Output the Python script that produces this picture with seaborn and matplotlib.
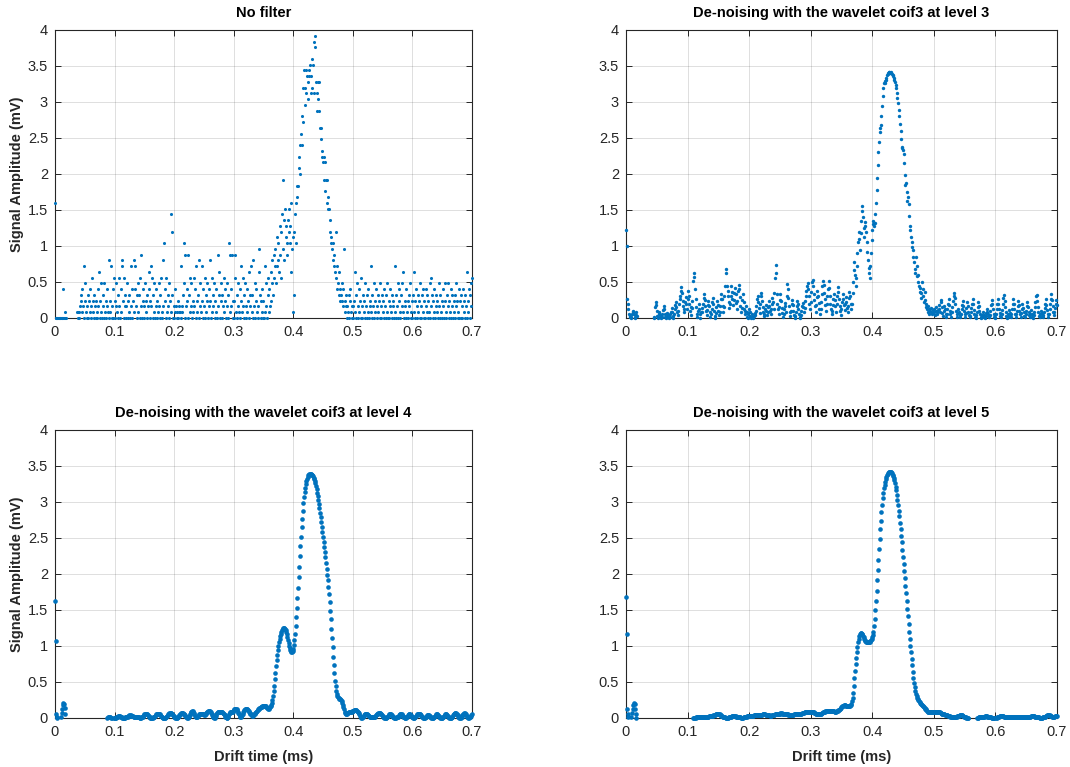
import numpy as np
import pandas as pd
import matplotlib
matplotlib.use("Agg")
import matplotlib.pyplot as plt
import seaborn as sns

# ---------------- data ----------------
SAMPLE_STEP_MS = 0.001      # drift-time sampling step
ADC_STEP_MV = 0.08          # quantisation step of the raw signal

# raw signal, in ADC steps (0.08 mV); negative = below the plotted range
raw_levels = [
    20,0,0,0,0,0,0,0,0,0,
    0,0,0,5,0,0,1,0,0,-1,
    -1,-1,-1,-1,-1,-1,-1,-1,-1,-1,
    -1,-1,-1,-1,-1,-1,-1,1,0,1,
    1,0,2,3,4,1,5,2,9,0,
    3,6,1,0,2,4,0,3,1,5,
    2,0,7,3,1,0,4,2,0,3,
    0,1,5,2,8,0,3,6,1,0,
    4,2,0,6,1,3,0,5,2,1,
    0,10,3,1,9,0,2,5,0,7,
    3,0,6,2,1,4,0,7,2,0,
    5,1,9,10,3,0,7,2,4,0,
    2,6,0,3,1,4,0,9,2,5,
    0,3,10,1,5,9,2,0,4,6,
    1,4,0,7,2,11,0,3,5,2,
    0,6,3,1,4,0,2,5,8,0,
    3,9,2,7,0,4,1,6,0,2,
    5,0,3,1,6,2,0,4,7,1,
    0,10,2,13,5,3,0,7,1,4,
    2,6,0,3,1,18,15,4,0,2,
    0,1,5,2,0,1,3,0,1,2,
    1,0,9,2,1,4,13,6,0,11,
    2,5,3,11,0,4,7,1,6,2,
    0,3,1,7,2,5,0,9,3,1,
    4,10,0,2,6,1,9,3,0,5,
    2,7,0,4,1,6,3,0,5,2,
    10,3,0,7,1,4,2,6,0,3,
    1,5,0,2,11,4,8,0,3,6,
    0,4,2,7,1,5,3,0,6,2,
    4,0,13,11,1,5,2,11,0,3,
    0,3,11,7,1,4,0,6,2,1,
    5,0,9,3,1,7,2,0,4,6,
    2,0,5,1,3,8,0,4,2,9,
    1,4,0,10,2,6,0,3,5,1,
    0,2,8,12,4,0,3,1,5,0,
    3,0,9,1,6,2,0,4,7,1,
    5,2,8,3,10,6,4,11,7,9,
    12,6,14,9,10,13,8,16,11,7,
    15,18,12,24,17,10,19,14,16,13,
    11,17,15,19,13,16,8,20,12,14,
    1,4,15,18,13,20,23,21,23,26,
    28,30,25,32,30,35,40,34,43,37,
    40,43,39,42,38,41,43,42,44,39,
    42,45,40,44,48,39,49,47,41,36,
    39,41,38,36,41,33,31,33,29,28,
    27,28,24,27,22,24,20,24,19,21,
    19,15,17,13,14,12,10,13,9,11,
    8,15,7,9,5,6,4,8,3,5,
    4,6,3,2,5,12,3,1,4,2,
    0,2,1,4,0,3,5,1,0,2,
    2,0,3,8,1,4,0,6,2,0,
    5,1,3,0,7,2,0,4,1,3,
    0,6,2,0,4,1,5,0,3,2,
    1,9,0,4,2,6,0,3,1,5,
    2,0,4,1,3,0,6,2,0,4,
    1,3,0,5,2,0,4,1,6,0,
    3,0,2,5,1,4,0,2,3,0,
    9,1,4,0,2,6,0,3,5,1,
    0,4,2,6,1,8,0,3,2,0,
    5,1,3,0,4,2,6,0,1,3,
    0,4,8,1,3,0,5,2,0,4,
    1,3,0,6,2,0,4,1,5,0,
    3,0,2,5,1,4,0,3,1,6,
    0,2,7,4,0,3,1,5,0,2,
    4,1,3,0,6,2,0,4,1,3,
    0,5,2,0,3,6,1,0,4,2,
    6,0,3,1,5,0,2,4,0,3,
    1,4,0,2,6,3,0,1,5,0,
    3,0,4,2,0,5,1,3,0,4,
    2,8,0,3,1,5,0,4,2,6,
    7,
]

# de-noised, coif3 level 3 (mV)
coif3_level3 = [
    1.22,1.0,0.27,0.2,0.12,0.06,0.03,0.01,0.0,0.02,
    0.05,0.09,0.1,0.06,0.02,0.0,0.04,0.08,0.03,-0.04,
    -0.08,-0.11,-0.13,-0.12,-0.1,-0.07,-0.05,-0.06,-0.09,-0.11,
    -0.12,-0.1,-0.08,-0.06,-0.07,-0.09,-0.1,-0.08,-0.05,-0.03,
    -0.02,-0.04,-0.05,-0.03,-0.01,0.0,0.02,0.15,0.22,0.18,
    0.1,0.03,0.0,0.05,0.08,0.04,0.01,0.0,0.02,0.06,
    0.11,0.16,0.12,0.05,0.01,0.0,0.03,0.07,0.04,0.01,
    0.0,0.02,0.05,0.09,0.14,0.08,0.03,0.0,0.06,0.12,
    0.18,0.22,0.15,0.09,0.04,0.1,0.2,0.3,0.26,0.38,
    0.43,0.35,0.24,0.16,0.08,0.13,0.22,0.29,0.2,0.12,
    0.26,0.37,0.31,0.2,0.1,0.04,0.15,0.24,0.14,0.52,
    0.62,0.57,0.4,0.27,0.15,0.06,0.02,0.1,0.19,0.12,
    0.05,0.0,0.08,0.14,0.09,0.2,0.28,0.33,0.25,0.17,
    0.1,0.04,0.11,0.18,0.24,0.16,0.08,0.02,0.06,0.13,
    0.22,0.28,0.19,0.1,0.03,0.0,0.07,0.15,0.24,0.18,
    0.1,0.04,0.09,0.17,0.26,0.33,0.27,0.16,0.08,0.15,
    0.3,0.45,0.68,0.62,0.44,0.38,0.3,0.22,0.14,0.2,
    0.31,0.44,0.36,0.27,0.18,0.25,0.35,0.42,0.33,0.21,
    0.12,0.24,0.38,0.46,0.4,0.29,0.17,0.08,0.14,0.25,
    0.33,0.22,0.12,0.05,0.1,0.16,0.08,0.02,0.0,0.06,
    0.13,0.09,0.03,0.0,0.02,0.05,0.01,0.0,0.03,0.07,
    0.04,0.1,0.17,0.26,0.31,0.22,0.14,0.07,0.2,0.3,
    0.35,0.24,0.15,0.08,0.03,0.06,0.12,0.18,0.1,0.04,
    0.08,0.15,0.23,0.17,0.1,0.05,0.12,0.2,0.28,0.22,
    0.13,0.35,0.55,0.73,0.62,0.34,0.2,0.12,0.06,0.15,
    0.25,0.33,0.24,0.14,0.07,0.02,0.06,0.13,0.21,0.16,
    0.09,0.3,0.47,0.4,0.28,0.17,0.08,0.03,0.1,0.19,
    0.25,0.18,0.1,0.04,0.0,0.03,0.09,0.17,0.24,0.2,
    0.12,0.06,0.02,0.0,0.04,0.1,0.16,0.21,0.15,0.08,
    0.14,0.23,0.3,0.38,0.45,0.48,0.4,0.31,0.2,0.12,
    0.22,0.36,0.5,0.53,0.44,0.33,0.25,0.16,0.09,0.18,
    0.29,0.38,0.3,0.21,0.13,0.06,0.12,0.22,0.34,0.45,
    0.52,0.46,0.35,0.27,0.18,0.1,0.2,0.31,0.4,0.51,
    0.42,0.3,0.2,0.12,0.06,0.1,0.18,0.26,0.33,0.25,
    0.16,0.09,0.2,0.31,0.43,0.36,0.26,0.17,0.1,0.04,
    0.12,0.22,0.33,0.26,0.18,0.11,0.2,0.29,0.22,0.14,
    0.08,0.17,0.28,0.36,0.3,0.2,0.12,0.19,0.35,0.5,
    0.66,0.78,0.6,0.45,0.55,0.72,0.9,1.05,1.2,1.1,
    0.95,1.18,1.35,1.48,1.55,1.4,1.25,1.12,1.28,1.34,
    1.2,1.05,0.92,0.8,0.7,0.62,0.56,0.72,0.9,1.08,
    1.22,1.3,1.35,1.28,1.32,1.45,1.6,1.78,1.95,2.12,
    2.3,2.45,2.58,2.64,2.68,2.8,2.95,3.08,3.2,3.27,
    3.27,3.29,3.31,3.34,3.37,3.39,3.4,3.41,3.41,3.4,
    3.41,3.4,3.39,3.38,3.36,3.34,3.31,3.28,3.24,3.19,
    3.13,3.06,2.98,2.89,2.8,2.7,2.6,2.49,2.38,2.36,
    2.34,2.28,2.15,1.98,1.85,1.88,1.75,1.62,1.68,1.58,
    1.42,1.28,1.22,1.12,0.98,1.05,0.95,0.85,0.78,0.62,
    0.68,0.85,0.72,0.58,0.5,0.6,0.45,0.36,0.42,0.28,
    0.35,0.5,0.4,0.3,0.22,0.36,0.25,0.15,0.2,0.12,
    0.08,0.16,0.12,0.06,0.1,0.14,0.09,0.05,0.11,0.07,
    0.12,0.08,0.04,0.1,0.15,0.09,0.05,0.11,0.18,0.13,
    0.08,0.22,0.25,0.15,0.07,0.03,0.1,0.17,0.12,0.05,
    0.02,0.06,0.12,0.2,0.26,0.18,0.1,0.05,0.02,0.08,
    0.15,0.23,0.3,0.35,0.28,0.19,0.1,0.05,0.02,0.07,
    0.13,0.09,0.04,0.01,0.06,0.12,0.18,0.24,0.17,0.1,
    0.05,0.02,0.07,0.14,0.22,0.16,0.09,0.04,0.01,0.03,
    0.08,0.14,0.2,0.27,0.19,0.11,0.05,0.02,0.0,0.04,
    0.09,0.15,0.22,0.16,0.1,0.05,0.02,0.0,0.01,0.04,
    0.08,0.04,0.01,0.0,0.03,0.07,0.12,0.09,0.05,0.02,
    0.01,0.04,0.1,0.18,0.25,0.19,0.12,0.06,0.02,0.0,
    0.02,0.06,0.12,0.2,0.26,0.2,0.13,0.07,0.03,0.01,
    0.05,0.11,0.19,0.28,0.32,0.24,0.15,0.08,0.03,0.0,
    0.02,0.06,0.11,0.07,0.03,0.01,0.05,0.12,0.2,0.27,
    0.2,0.12,0.06,0.02,0.05,0.1,0.17,0.24,0.18,0.1,
    0.05,0.02,0.07,0.13,0.2,0.14,0.08,0.03,0.01,0.05,
    0.1,0.16,0.22,0.15,0.09,0.04,0.02,0.06,0.11,0.06,
    0.02,0.0,0.04,0.09,0.15,0.22,0.3,0.32,0.24,0.15,
    0.08,0.03,0.01,0.05,0.1,0.07,0.03,0.01,0.04,0.09,
    0.14,0.2,0.26,0.18,0.11,0.05,0.02,0.06,0.12,0.19,
    0.27,0.33,0.25,0.16,0.09,0.04,0.08,0.14,0.2,0.25,
    0.18,
]

# de-noised, coif3 level 4 (mV)
coif3_level4 = [
    1.62,1.07,0.05,0.02,0.0,-0.02,-0.04,-0.05,-0.04,-0.02,
    0.02,0.07,0.13,0.18,0.21,0.2,0.14,0.06,-0.02,-0.08,
    -0.12,-0.14,-0.15,-0.15,-0.14,-0.13,-0.11,-0.1,-0.09,-0.09,
    -0.1,-0.11,-0.12,-0.12,-0.11,-0.1,-0.08,-0.07,-0.06,-0.06,
    -0.07,-0.08,-0.09,-0.1,-0.1,-0.09,-0.08,-0.07,-0.06,-0.05,
    -0.05,-0.06,-0.07,-0.08,-0.08,-0.07,-0.06,-0.05,-0.04,-0.04,
    -0.05,-0.06,-0.07,-0.07,-0.07,-0.06,-0.05,-0.04,-0.03,-0.03,
    -0.04,-0.05,-0.06,-0.06,-0.06,-0.05,-0.04,-0.03,-0.03,-0.03,
    -0.04,-0.05,-0.05,-0.05,-0.04,-0.03,-0.02,-0.01,0.0,0.01,
    0.02,0.02,0.02,0.01,0.0,0.0,-0.01,-0.01,-0.01,0.0,
    0.0,0.0,0.0,0.01,0.01,0.02,0.03,0.03,0.03,0.03,
    0.02,0.02,0.01,0.0,0.0,0.0,0.0,0.0,0.01,0.01,
    0.01,0.02,0.02,0.03,0.03,0.04,0.04,0.04,0.03,0.03,
    0.03,0.03,0.02,0.02,0.02,0.01,0.01,0.01,0.01,0.01,
    0.01,0.01,0.0,0.0,0.0,0.01,0.01,0.02,0.03,0.04,
    0.05,0.06,0.06,0.06,0.06,0.05,0.04,0.03,0.02,0.01,
    0.0,0.0,0.0,0.0,0.0,0.01,0.01,0.02,0.03,0.04,
    0.05,0.06,0.06,0.06,0.06,0.06,0.05,0.04,0.03,0.02,
    0.01,0.0,0.0,0.0,0.0,0.0,0.01,0.02,0.03,0.04,
    0.05,0.06,0.07,0.07,0.07,0.07,0.06,0.05,0.04,0.03,
    0.02,0.01,0.0,0.0,0.0,0.0,0.01,0.02,0.03,0.04,
    0.05,0.06,0.07,0.07,0.07,0.07,0.06,0.05,0.04,0.03,
    0.02,0.01,0.0,0.0,0.01,0.02,0.04,0.06,0.08,0.09,
    0.1,0.1,0.09,0.07,0.05,0.03,0.02,0.01,0.01,0.02,
    0.03,0.04,0.05,0.06,0.06,0.06,0.06,0.06,0.05,0.05,
    0.04,0.04,0.05,0.06,0.07,0.08,0.09,0.1,0.1,0.1,
    0.1,0.09,0.08,0.06,0.04,0.02,0.01,0.0,0.0,0.01,
    0.03,0.05,0.07,0.08,0.08,0.08,0.08,0.08,0.08,0.08,
    0.08,0.08,0.07,0.06,0.05,0.04,0.02,0.01,0.0,0.0,
    0.01,0.03,0.05,0.07,0.08,0.08,0.08,0.08,0.09,0.1,
    0.11,0.12,0.13,0.13,0.13,0.12,0.11,0.09,0.07,0.05,
    0.03,0.02,0.02,0.03,0.04,0.06,0.08,0.1,0.11,0.12,
    0.12,0.12,0.12,0.12,0.11,0.1,0.08,0.07,0.06,0.05,
    0.04,0.03,0.03,0.04,0.05,0.06,0.07,0.08,0.09,0.1,
    0.11,0.12,0.13,0.14,0.14,0.15,0.15,0.15,0.16,0.16,
    0.16,0.17,0.17,0.17,0.16,0.15,0.14,0.14,0.13,0.13,
    0.14,0.15,0.16,0.18,0.21,0.25,0.3,0.37,0.45,0.54,
    0.63,0.72,0.8,0.87,0.94,1.0,1.05,1.1,1.14,1.17,
    1.2,1.22,1.24,1.25,1.25,1.25,1.24,1.22,1.19,1.16,
    1.12,1.08,1.04,1.0,0.97,0.95,0.93,0.92,0.92,0.93,
    0.96,1.01,1.08,1.17,1.28,1.4,1.53,1.67,1.81,1.96,
    2.1,2.25,2.39,2.52,2.65,2.77,2.88,2.98,3.07,3.14,
    3.2,3.25,3.29,3.32,3.35,3.37,3.38,3.39,3.39,3.39,
    3.39,3.38,3.37,3.36,3.34,3.32,3.29,3.26,3.22,3.18,
    3.13,3.08,3.03,2.97,2.91,2.85,2.79,2.72,2.65,2.58,
    2.51,2.44,2.37,2.3,2.23,2.15,2.07,1.99,1.91,1.82,
    1.72,1.61,1.49,1.37,1.24,1.11,0.98,0.85,0.73,0.62,
    0.52,0.44,0.38,0.33,0.31,0.29,0.28,0.27,0.27,0.26,
    0.25,0.23,0.21,0.18,0.15,0.12,0.09,0.07,0.06,0.06,
    0.06,0.07,0.07,0.08,0.08,0.08,0.08,0.09,0.09,0.1,
    0.1,0.1,0.11,0.11,0.11,0.11,0.11,0.1,0.09,0.08,
    0.07,0.05,0.03,0.01,0.0,0.0,0.01,0.02,0.03,0.04,
    0.05,0.05,0.05,0.05,0.05,0.04,0.04,0.03,0.02,0.02,
    0.01,0.01,0.01,0.01,0.01,0.01,0.02,0.02,0.03,0.04,
    0.05,0.06,0.06,0.07,0.07,0.07,0.07,0.06,0.05,0.04,
    0.03,0.02,0.01,0.0,0.0,0.0,0.0,0.01,0.02,0.03,
    0.04,0.05,0.05,0.05,0.05,0.04,0.03,0.02,0.01,0.0,
    0.0,0.0,0.0,0.01,0.01,0.02,0.02,0.03,0.04,0.05,
    0.05,0.05,0.05,0.04,0.03,0.02,0.01,0.0,0.0,0.0,
    0.01,0.02,0.03,0.04,0.05,0.05,0.05,0.04,0.03,0.02,
    0.01,0.0,0.0,0.0,0.01,0.02,0.03,0.04,0.05,0.06,
    0.06,0.06,0.06,0.05,0.04,0.03,0.02,0.01,0.0,0.0,
    0.0,0.0,0.01,0.02,0.03,0.04,0.04,0.04,0.04,0.03,
    0.02,0.01,0.0,0.0,0.0,0.0,0.01,0.02,0.03,0.04,
    0.05,0.05,0.05,0.04,0.03,0.02,0.01,0.0,0.0,0.0,
    0.0,0.01,0.02,0.03,0.04,0.05,0.05,0.05,0.04,0.03,
    0.02,0.01,0.0,0.0,0.0,0.0,0.01,0.02,0.04,0.05,
    0.06,0.07,0.07,0.07,0.06,0.05,0.04,0.02,0.01,0.0,
    0.0,0.0,0.01,0.02,0.04,0.05,0.06,0.07,0.07,0.06,
    0.05,0.03,0.02,0.01,0.0,0.0,0.01,0.02,0.03,0.04,
    0.05,
]

# de-noised, coif3 level 5 (mV)
coif3_level5 = [
    1.68,1.16,0.13,0.06,0.01,-0.03,-0.06,-0.05,-0.02,0.02,
    0.07,0.13,0.18,0.21,0.19,0.13,0.06,0.0,-0.05,-0.09,
    -0.12,-0.14,-0.15,-0.15,-0.14,-0.12,-0.1,-0.09,-0.08,-0.08,
    -0.09,-0.1,-0.11,-0.12,-0.12,-0.11,-0.1,-0.09,-0.08,-0.07,
    -0.07,-0.07,-0.08,-0.09,-0.1,-0.1,-0.1,-0.09,-0.08,-0.07,
    -0.06,-0.06,-0.06,-0.07,-0.08,-0.08,-0.08,-0.07,-0.06,-0.05,
    -0.05,-0.05,-0.06,-0.07,-0.07,-0.07,-0.06,-0.05,-0.05,-0.04,
    -0.04,-0.05,-0.05,-0.06,-0.06,-0.05,-0.05,-0.04,-0.04,-0.04,
    -0.04,-0.05,-0.05,-0.05,-0.05,-0.04,-0.04,-0.03,-0.03,-0.03,
    -0.03,-0.04,-0.04,-0.04,-0.04,-0.03,-0.03,-0.03,-0.02,-0.02,
    -0.03,-0.03,-0.03,-0.03,-0.02,-0.02,-0.02,-0.01,-0.01,0.0,
    0.0,0.0,0.0,0.0,0.01,0.01,0.01,0.01,0.01,0.01,
    0.01,0.01,0.01,0.01,0.01,0.02,0.02,0.02,0.02,0.02,
    0.02,0.02,0.02,0.02,0.02,0.03,0.03,0.03,0.03,0.03,
    0.03,0.03,0.04,0.04,0.04,0.04,0.05,0.05,0.05,0.05,
    0.05,0.05,0.05,0.04,0.04,0.03,0.03,0.02,0.02,0.01,
    0.01,0.01,0.0,0.0,0.0,0.0,0.0,0.01,0.01,0.01,
    0.02,0.02,0.03,0.03,0.03,0.03,0.03,0.03,0.03,0.02,
    0.02,0.02,0.02,0.01,0.01,0.01,0.01,0.0,0.0,0.0,
    0.0,0.01,0.01,0.01,0.02,0.02,0.02,0.03,0.03,0.03,
    0.03,0.03,0.03,0.03,0.03,0.03,0.03,0.03,0.04,0.04,
    0.04,0.04,0.04,0.04,0.04,0.04,0.04,0.04,0.04,0.04,
    0.04,0.04,0.05,0.05,0.05,0.05,0.05,0.04,0.04,0.04,
    0.04,0.04,0.04,0.04,0.03,0.03,0.03,0.04,0.04,0.04,
    0.04,0.04,0.05,0.05,0.05,0.06,0.06,0.06,0.06,0.06,
    0.06,0.07,0.07,0.07,0.06,0.06,0.06,0.06,0.05,0.05,
    0.05,0.05,0.05,0.05,0.04,0.04,0.04,0.04,0.04,0.04,
    0.04,0.04,0.04,0.05,0.05,0.05,0.05,0.05,0.05,0.05,
    0.05,0.05,0.06,0.06,0.06,0.06,0.07,0.07,0.07,0.07,
    0.08,0.08,0.08,0.08,0.09,0.09,0.09,0.09,0.09,0.09,
    0.09,0.09,0.09,0.08,0.08,0.08,0.07,0.07,0.06,0.06,
    0.06,0.05,0.05,0.05,0.05,0.05,0.06,0.06,0.07,0.07,
    0.08,0.08,0.09,0.09,0.1,0.1,0.1,0.1,0.1,0.1,
    0.1,0.1,0.1,0.1,0.1,0.1,0.1,0.1,0.1,0.09,
    0.09,0.09,0.1,0.1,0.1,0.11,0.11,0.12,0.13,0.14,
    0.15,0.16,0.17,0.17,0.18,0.18,0.18,0.17,0.17,0.16,
    0.16,0.16,0.16,0.17,0.17,0.18,0.2,0.23,0.28,0.35,
    0.45,0.55,0.65,0.75,0.84,0.92,0.99,1.05,1.1,1.14,
    1.16,1.18,1.18,1.17,1.16,1.14,1.12,1.1,1.09,1.07,
    1.06,1.06,1.05,1.05,1.05,1.05,1.06,1.07,1.08,1.1,
    1.12,1.15,1.2,1.28,1.38,1.5,1.63,1.77,1.91,2.06,
    2.2,2.35,2.49,2.62,2.74,2.86,2.96,3.05,3.12,3.19,
    3.24,3.28,3.32,3.35,3.37,3.39,3.4,3.41,3.42,3.42,
    3.42,3.41,3.4,3.38,3.36,3.33,3.3,3.26,3.21,3.16,
    3.1,3.03,2.96,2.88,2.8,2.71,2.62,2.53,2.44,2.34,
    2.24,2.14,2.04,1.94,1.83,1.73,1.62,1.52,1.41,1.3,
    1.2,1.1,1.0,0.91,0.82,0.73,0.64,0.56,0.49,0.43,
    0.38,0.34,0.31,0.28,0.26,0.25,0.24,0.22,0.21,0.2,
    0.19,0.18,0.17,0.16,0.15,0.14,0.13,0.12,0.11,0.1,
    0.09,0.09,0.08,0.08,0.08,0.08,0.08,0.08,0.08,0.08,
    0.08,0.08,0.09,0.09,0.09,0.09,0.09,0.09,0.08,0.08,
    0.08,0.07,0.07,0.06,0.06,0.05,0.05,0.05,0.04,0.04,
    0.04,0.04,0.04,0.03,0.03,0.03,0.03,0.02,0.02,0.02,
    0.02,0.02,0.02,0.02,0.02,0.02,0.02,0.02,0.03,0.03,
    0.03,0.03,0.04,0.04,0.04,0.04,0.04,0.03,0.03,0.02,
    0.02,0.01,0.01,0.0,0.0,0.0,0.0,-0.01,-0.01,-0.02,
    -0.02,-0.02,-0.03,-0.03,-0.03,-0.03,-0.02,-0.02,-0.01,-0.01,
    0.0,0.0,0.0,0.01,0.01,0.01,0.01,0.02,0.02,0.02,
    0.02,0.02,0.02,0.03,0.03,0.03,0.03,0.02,0.02,0.02,
    0.01,0.01,0.01,0.01,0.0,0.0,0.0,0.0,0.0,-0.01,
    -0.01,0.0,0.0,0.01,0.01,0.02,0.02,0.03,0.03,0.03,
    0.03,0.03,0.03,0.03,0.02,0.02,0.02,0.02,0.02,0.02,
    0.02,0.02,0.02,0.02,0.02,0.02,0.02,0.02,0.01,0.01,
    0.01,0.01,0.01,0.01,0.02,0.02,0.02,0.02,0.02,0.02,
    0.02,0.01,0.01,0.01,0.01,0.01,0.01,0.01,0.01,0.01,
    0.01,0.01,0.01,0.01,0.02,0.02,0.02,0.02,0.03,0.03,
    0.03,0.03,0.03,0.03,0.02,0.02,0.02,0.01,0.01,0.01,
    0.01,0.01,0.0,0.0,0.0,0.0,0.0,0.01,0.01,0.01,
    0.02,0.02,0.03,0.03,0.04,0.04,0.04,0.04,0.04,0.03,
    0.03,0.03,0.02,0.02,0.02,0.02,0.02,0.03,0.03,0.03,
    0.03,
]

panel_titles = [
    "No filter",
    "De-noising with the wavelet coif3 at level 3",
    "De-noising with the wavelet coif3 at level 4",
    "De-noising with the wavelet coif3 at level 5",
]
x_ticks = [0, 0.1, 0.2, 0.3, 0.4, 0.5, 0.6, 0.7]
x_tick_labels = ["0", "0.1", "0.2", "0.3", "0.4", "0.5", "0.6", "0.7"]
y_ticks = [0, 0.5, 1, 1.5, 2, 2.5, 3, 3.5, 4]
y_tick_labels = ["0", "0.5", "1", "1.5", "2", "2.5", "3", "3.5", "4"]
x_label = "Drift time (ms)"
y_label = "Signal Amplitude (mV)"

# ---------------- drawing ----------------
sns.set_theme(style="ticks")
plt.rcParams["font.family"] = ["Liberation Sans", "DejaVu Sans"]

MATLAB_BLUE = "#0072BD"
AX_GRAY = "#262626"

series_list = [
    [v * ADC_STEP_MV for v in raw_levels],
    coif3_level3,
    coif3_level4,
    coif3_level5,
]
marker_sizes = [5, 6, 11, 11]

fig = plt.figure(figsize=(10.7, 7.67), dpi=100)
positions = [
    [0.0514, 0.5854, 0.3897, 0.3755],
    [0.5850, 0.5854, 0.4028, 0.3755],
    [0.0514, 0.0639, 0.3897, 0.3755],
    [0.5850, 0.0639, 0.4028, 0.3755],
]

for i, (pos, values, title) in enumerate(zip(positions, series_list, panel_titles)):
    ax = fig.add_axes(pos)
    y = np.asarray(values, dtype=float)
    t = np.arange(len(y)) * SAMPLE_STEP_MS
    keep = (y >= 0) & (y <= 4) & (t <= 0.7 + 1e-9)
    df = pd.DataFrame({"t": t[keep], "amp": y[keep]})
    sns.scatterplot(data=df, x="t", y="amp", ax=ax, s=marker_sizes[i], marker="o",
                    color=MATLAB_BLUE, linewidth=0, legend=False, zorder=3)
    for coll in ax.collections:
        coll.set_clip_on(False)

    ax.set_xlim(0, 0.7)
    ax.set_ylim(0, 4)
    ax.set_xticks(x_ticks)
    ax.set_xticklabels(x_tick_labels)
    ax.set_yticks(y_ticks)
    ax.set_yticklabels(y_tick_labels)
    ax.grid(True, color=AX_GRAY, alpha=0.15, linewidth=0.7)
    ax.set_axisbelow(True)
    ax.tick_params(direction="in", length=4, width=0.7, colors=AX_GRAY,
                   labelsize=10.5, top=True, right=True, pad=5)
    for sp in ax.spines.values():
        sp.set_visible(True)
        sp.set_color(AX_GRAY)
        sp.set_linewidth(0.8)
    ax.set_title(title, fontsize=10.5, fontweight="bold", color="black", pad=9)
    ax.set_xlabel(x_label if i >= 2 else "", fontsize=10.5, fontweight="bold",
                  color=AX_GRAY, labelpad=8)
    ax.set_ylabel(y_label if i % 2 == 0 else "", fontsize=10.5, fontweight="bold",
                  color=AX_GRAY, labelpad=3)

fig.savefig("out.png", dpi=100, facecolor="white")
